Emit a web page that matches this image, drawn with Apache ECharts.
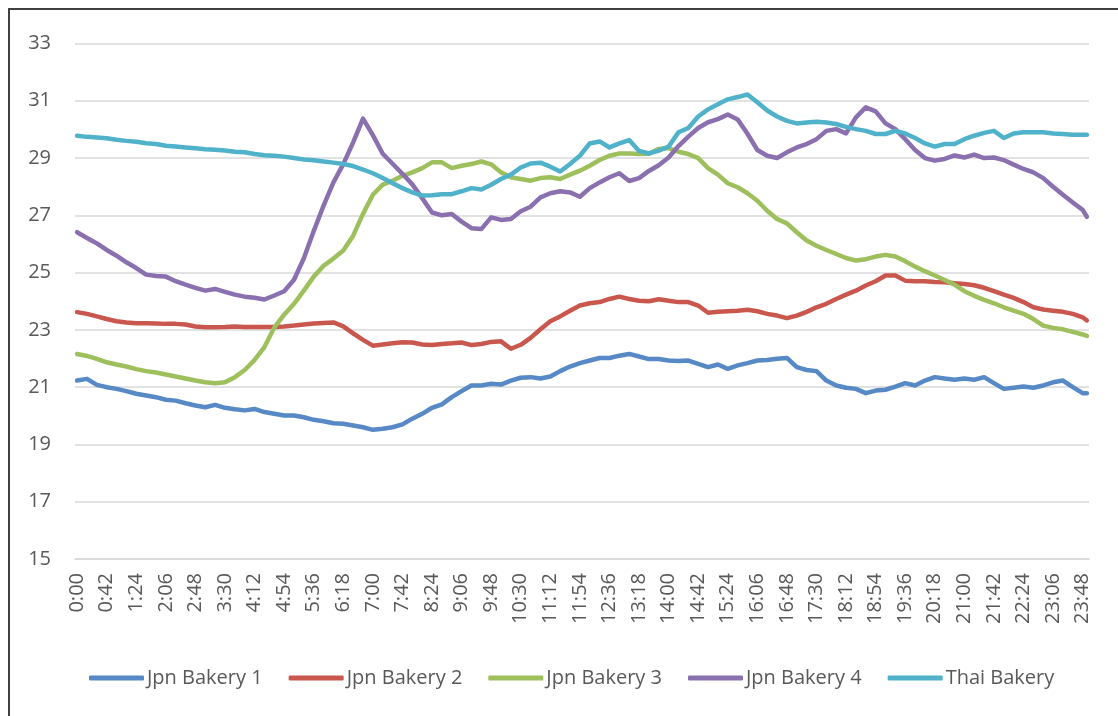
<!DOCTYPE html>
<html>
<head>
<meta charset="utf-8">
<script src="https://cdn.jsdelivr.net/npm/echarts@6/dist/echarts.min.js"></script>
<style>
  html, body { margin: 0; padding: 0; background: #fff; overflow: hidden; }
  #frame { position: absolute; left: 8px; top: 8px; width: 1200px; height: 800px; border: 2px solid #404040; }
  #chart { position: absolute; left: 0; top: 0; width: 1118px; height: 716px; }
</style>
</head>
<body>
<div id="frame"></div>
<div id="chart"></div>
<script>
// x labels shown on the axis (every 42 minutes)
var tickLabels = ['0:00','0:42','1:24','2:06','2:48','3:30','4:12','4:54','5:36','6:18','7:00','7:42','8:24','9:06','9:48','10:30','11:12','11:54','12:36','13:18','14:00','14:42','15:24','16:06','16:48','17:30','18:12','18:54','19:36','20:18','21:00','21:42','22:24','23:06','23:48'];

// sample times (minutes after midnight)
var times = [
  0,14,28,42,56,70,84,98,112,126,
  140,154,168,182,196,210,224,238,252,266,
  280,294,308,322,336,350,364,378,392,406,
  420,434,448,462,476,490,504,518,532,546,
  560,574,588,602,616,630,644,658,672,686,
  700,714,728,742,756,770,784,798,812,826,
  840,854,868,882,896,910,924,938,952,966,
  980,994,1008,1022,1036,1050,1064,1078,1092,1106,
  1120,1134,1148,1162,1176,1190,1204,1218,1232,1246,
  1260,1274,1288,1302,1316,1330,1344,1358,1372,1386,
  1400,1414,1428,1434
];

var jpn1 = [
  21.23,21.29,21.08,21.00,20.94,20.86,20.77,20.71,20.65,20.56,
  20.53,20.44,20.36,20.30,20.38,20.28,20.23,20.19,20.24,20.13,
  20.07,20.01,20.01,19.95,19.86,19.81,19.74,19.72,19.66,19.60,
  19.51,19.55,19.60,19.70,19.90,20.07,20.28,20.40,20.65,20.86,
  21.06,21.06,21.12,21.09,21.23,21.33,21.35,21.30,21.37,21.56,
  21.72,21.84,21.93,22.02,22.02,22.10,22.16,22.07,21.98,21.98,
  21.93,21.91,21.93,21.81,21.70,21.79,21.64,21.76,21.84,21.93,
  21.95,21.99,22.02,21.70,21.60,21.56,21.23,21.06,20.98,20.94,
  20.79,20.88,20.91,21.02,21.14,21.06,21.23,21.35,21.30,21.26,
  21.30,21.26,21.35,21.14,20.94,20.98,21.02,20.98,21.06,21.17,
  21.23,21.00,20.79,20.79
];

var jpn2 = [
  23.62,23.56,23.47,23.38,23.30,23.26,23.23,23.23,23.22,23.21,
  23.21,23.19,23.12,23.09,23.09,23.10,23.12,23.10,23.10,23.10,
  23.10,23.12,23.15,23.19,23.22,23.24,23.26,23.12,22.88,22.65,
  22.45,22.49,22.53,22.57,22.56,22.49,22.47,22.51,22.53,22.56,
  22.47,22.51,22.58,22.60,22.34,22.48,22.72,23.02,23.30,23.47,
  23.67,23.85,23.93,23.97,24.08,24.16,24.08,24.02,24.00,24.07,
  24.02,23.97,23.97,23.85,23.60,23.63,23.65,23.67,23.70,23.65,
  23.56,23.50,23.41,23.50,23.63,23.79,23.91,24.08,24.23,24.37,
  24.55,24.70,24.90,24.90,24.72,24.70,24.70,24.67,24.66,24.63,
  24.60,24.56,24.47,24.35,24.23,24.12,23.97,23.79,23.71,23.67,
  23.63,23.56,23.44,23.33
];

var jpn3 = [
  22.16,22.09,21.99,21.87,21.79,21.72,21.63,21.56,21.51,21.44,
  21.37,21.30,21.23,21.17,21.14,21.17,21.35,21.60,21.95,22.40,
  23.08,23.53,23.91,24.37,24.86,25.24,25.49,25.77,26.29,27.05,
  27.72,28.07,28.21,28.38,28.50,28.65,28.85,28.85,28.65,28.73,
  28.79,28.88,28.78,28.50,28.33,28.27,28.21,28.30,28.33,28.27,
  28.42,28.56,28.73,28.93,29.08,29.16,29.16,29.14,29.15,29.32,
  29.35,29.22,29.14,29.00,28.65,28.42,28.12,27.98,27.77,27.51,
  27.16,26.87,26.72,26.41,26.12,25.94,25.79,25.65,25.51,25.42,
  25.47,25.56,25.62,25.56,25.40,25.21,25.05,24.90,24.74,24.58,
  24.35,24.19,24.05,23.93,23.79,23.67,23.56,23.38,23.15,23.07,
  23.02,22.93,22.84,22.79
];

var jpn4 = [
  26.41,26.21,26.02,25.79,25.59,25.36,25.16,24.93,24.88,24.86,
  24.70,24.58,24.47,24.37,24.43,24.33,24.23,24.16,24.12,24.06,
  24.20,24.35,24.75,25.50,26.45,27.34,28.15,28.79,29.55,30.38,
  29.80,29.15,28.80,28.45,28.08,27.60,27.10,27.00,27.05,26.78,
  26.55,26.52,26.93,26.84,26.87,27.14,27.30,27.63,27.77,27.84,
  27.80,27.65,27.95,28.15,28.33,28.47,28.20,28.30,28.55,28.75,
  29.02,29.42,29.75,30.05,30.25,30.36,30.52,30.35,29.85,29.28,
  29.08,29.00,29.20,29.37,29.49,29.66,29.95,30.01,29.86,30.42,
  30.77,30.63,30.21,30.01,29.66,29.28,29.00,28.91,28.97,29.09,
  29.02,29.12,29.00,29.02,28.93,28.77,28.62,28.50,28.30,28.00,
  27.72,27.45,27.19,26.95
];

var thai = [
  29.78,29.74,29.72,29.69,29.64,29.60,29.57,29.52,29.49,29.43,
  29.40,29.37,29.34,29.31,29.29,29.26,29.22,29.20,29.14,29.10,
  29.08,29.05,29.00,28.95,28.92,28.88,28.84,28.79,28.72,28.60,
  28.47,28.30,28.12,27.95,27.80,27.69,27.70,27.74,27.74,27.84,
  27.95,27.90,28.07,28.27,28.42,28.67,28.81,28.84,28.70,28.53,
  28.79,29.08,29.51,29.58,29.37,29.51,29.63,29.25,29.16,29.26,
  29.40,29.90,30.05,30.45,30.70,30.88,31.05,31.13,31.22,30.95,
  30.66,30.45,30.30,30.21,30.24,30.27,30.24,30.19,30.09,30.01,
  29.95,29.84,29.84,29.95,29.86,29.70,29.51,29.40,29.49,29.49,
  29.66,29.78,29.88,29.95,29.70,29.86,29.90,29.90,29.90,29.86,
  29.84,29.81,29.81,29.81
];

var seriesNames = ['Jpn Bakery 1', 'Jpn Bakery 2', 'Jpn Bakery 3', 'Jpn Bakery 4', 'Thai Bakery'];
var seriesData = [jpn1, jpn2, jpn3, jpn4, thai];
var colors = ['#5689C5', '#C9574E', '#9DBF5C', '#8A70AE', '#4FB2CA'];

function toMinutes(s) {
  var p = s.split(':');
  return parseInt(p[0], 10) * 60 + parseInt(p[1], 10);
}
function toLabel(m) {
  var mm = m % 60;
  return Math.floor(m / 60) + ':' + (mm < 10 ? '0' : '') + mm;
}

var tickMinutes = tickLabels.map(toMinutes);
var font = '"Open Sans", "Noto Sans", sans-serif';
var textColor = '#595959';

var chart = echarts.init(document.getElementById('chart'));
chart.setOption({
  animation: false,
  color: colors,
  grid: { left: 75, right: 29, top: 43.5, bottom: 157 },
  legend: {
    left: 84,
    top: 663,
    itemWidth: 55,
    itemHeight: 5,
    itemGap: 26,
    icon: 'roundRect',
    textStyle: { color: textColor, fontSize: 20, fontFamily: font, padding: [0, 0, 0, -2] },
    data: seriesNames
  },
  xAxis: {
    type: 'value',
    min: -3,
    max: 1437,
    splitLine: { show: false },
    axisTick: { show: false },
    axisLine: { show: true, lineStyle: { color: '#d9d9d9', width: 1.5 } },
    axisLabel: {
      customValues: tickMinutes,
      rotate: 90,
      margin: 14,
      color: textColor,
      fontSize: 20,
      fontFamily: font,
      formatter: function (v) { return toLabel(v); }
    }
  },
  yAxis: {
    type: 'value',
    min: 15,
    max: 33,
    interval: 2,
    axisLine: { show: false },
    axisTick: { show: false },
    splitLine: { lineStyle: { color: '#d9d9d9', width: 1.5 } },
    axisLabel: { margin: 24, color: textColor, fontSize: 20, fontFamily: font }
  },
  series: seriesNames.map(function (name, i) {
    return {
      name: name,
      type: 'line',
      showSymbol: false,
      symbol: 'none',
      smooth: false,
      lineStyle: { width: 4.5, cap: 'round', join: 'round' },
      data: times.map(function (t, j) { return [t, seriesData[i][j]]; })
    };
  })
});
</script>
</body>
</html>
